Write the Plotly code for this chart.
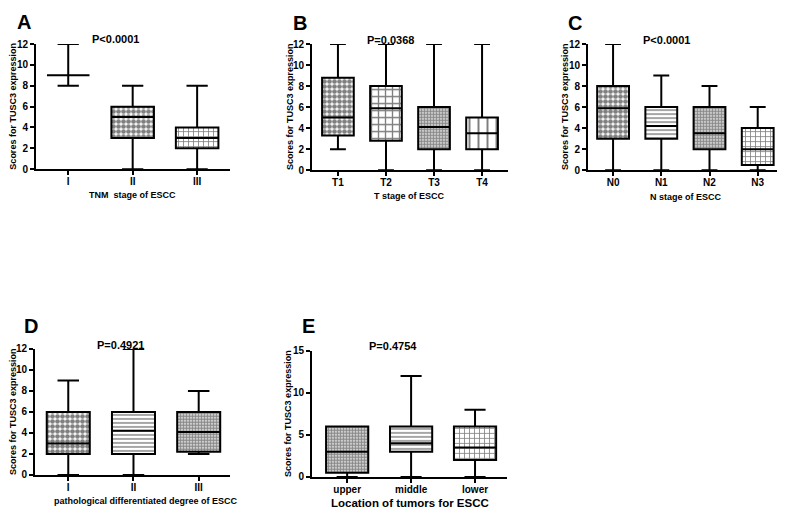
import plotly.graph_objects as go

# ---------------- data ----------------
A_cats = ["I", "II", "III"]
A_min = [8, 0, 0]
A_q1 = [9, 3, 2]
A_med = [9, 5, 3]
A_q3 = [9, 6, 4]
A_max = [12, 8, 8]

B_cats = ["T1", "T2", "T3", "T4"]
B_min = [2, 0, 0, 0]
B_q1 = [3.3, 2.8, 2, 2]
B_med = [5, 5.9, 4.1, 3.5]
B_q3 = [8.8, 8, 6, 5]
B_max = [12, 12, 12, 12]

C_cats = ["N0", "N1", "N2", "N3"]
C_min = [0, 0, 0, 0]
C_q1 = [3, 3, 2, 0.5]
C_med = [5.9, 4.2, 3.5, 2]
C_q3 = [8, 6, 6, 4]
C_max = [12, 9, 8, 6]

D_cats = ["I", "II", "III"]
D_min = [0, 0, 2]
D_q1 = [2, 2, 2.2]
D_med = [3, 4.2, 4.1]
D_q3 = [6, 6, 6]
D_max = [9, 12, 8]

E_cats = ["upper", "middle", "lower"]
E_min = [0, 0, 0]
E_q1 = [0.5, 3, 2]
E_med = [3, 4, 3.5]
E_q3 = [6, 6, 6]
E_max = [6, 12, 8]

A_p = "P<0.0001"
B_p = "P=0.0368"
C_p = "P<0.0001"
D_p = "P=0.4921"
E_p = "P=0.4754"

A_xtitle = "TNM  stage of ESCC"
B_xtitle = "T stage of ESCC"
C_xtitle = "N stage of ESCC"
D_xtitle = "pathological differentiated degree of ESCC"
E_xtitle = "Location of tumors for ESCC"
Y_title = "Scores for TUSC3 expression"

# ---------------- styles ----------------
W, H = 787, 522
FONT = "Liberation Sans, Arial, sans-serif"

PAT = {
    "checker": dict(shape=".", size=5, solidity=0.7, fgcolor="black"),
    "finegrid": dict(shape="+", size=5, solidity=0.3, fgcolor="black"),
    "biggrid": dict(shape="+", size=7, solidity=0.35, fgcolor="black"),
    "dots": dict(shape=".", size=3, solidity=0.75, fgcolor="#111111"),
    "vlines": dict(shape="|", size=9, solidity=0.22, fgcolor="black"),
    "brick": dict(shape="-", size=4, solidity=0.35, fgcolor="black"),
}

panels = [
    dict(key="A", cats=A_cats, mn=A_min, q1=A_q1, md=A_med, q3=A_q3, mx=A_max,
         pats=["checker", "checker", "finegrid"], p=A_p, xt=A_xtitle,
         px=(36, 230), py=(39, 167), xr=(-0.5, 2.51), yr=(0, 12), dt=2,
         letter=(24, 16), pv=(115, 34), xtp=(132, 193), ytx=13, xtsize=9),
    dict(key="B", cats=B_cats, mn=B_min, q1=B_q1, md=B_med, q3=B_q3, mx=B_max,
         pats=["checker", "biggrid", "dots", "vlines"], p=B_p, xt=B_xtitle,
         px=(312, 508), py=(39, 168), xr=(-0.54, 3.54), yr=(0, 12), dt=2,
         letter=(300, 17), pv=(390, 35), xtp=(409, 194), ytx=290, xtsize=9),
    dict(key="C", cats=C_cats, mn=C_min, q1=C_q1, md=C_med, q3=C_q3, mx=C_max,
         pats=["checker", "brick", "dots", "finegrid"], p=C_p, xt=C_xtitle,
         px=(588, 777), py=(39, 168), xr=(-0.52, 3.40), yr=(0, 12), dt=2,
         letter=(575, 17), pv=(666, 35), xtp=(686, 195), ytx=565, xtsize=9),
    dict(key="D", cats=D_cats, mn=D_min, q1=D_q1, md=D_med, q3=D_q3, mx=D_max,
         pats=["checker", "brick", "dots"], p=D_p, xt=D_xtitle,
         px=(35, 230), py=(351, 480), xr=(-0.51, 2.48), yr=(0, 12), dt=2,
         letter=(31, 328), pv=(120, 347), xtp=(146, 507), ytx=13, xtsize=9),
    dict(key="E", cats=E_cats, mn=E_min, q1=E_q1, md=E_med, q3=E_q3, mx=E_max,
         pats=["dots", "brick", "finegrid"], p=E_p, xt=E_xtitle,
         px=(312, 507), py=(353, 482), xr=(-0.55, 2.5), yr=(0, 15), dt=5,
         letter=(308, 328), pv=(393, 348), xtp=(410, 509), ytx=288, xtsize=11.5),
]

fig = go.Figure()
annotations = []
layout = {}
BOXW = 0.66

for i, pn in enumerate(panels):
    n = i + 1
    xa = "x" if n == 1 else f"x{n}"
    ya = "y" if n == 1 else f"y{n}"
    xpos = list(range(len(pn["cats"])))
    pats = [PAT[k] for k in pn["pats"]]
    fig.add_trace(go.Bar(
        x=xpos, base=pn["q1"], y=[b - a for a, b in zip(pn["q1"], pn["q3"])],
        width=BOXW, xaxis=xa, yaxis=ya, showlegend=False, hoverinfo="skip",
        marker=dict(color="white", line=dict(width=0),
                    pattern=dict(shape=[p["shape"] for p in pats],
                                 size=[p["size"] for p in pats],
                                 solidity=[p["solidity"] for p in pats],
                                 fgcolor=[p["fgcolor"] for p in pats],
                                 bgcolor="white", fillmode="overlay")),
    ))
    fig.add_trace(go.Box(
        x=xpos, q1=pn["q1"], median=pn["md"], q3=pn["q3"],
        lowerfence=pn["mn"], upperfence=pn["mx"], width=BOXW,
        whiskerwidth=0.5, fillcolor="rgba(0,0,0,0)",
        line=dict(color="black", width=2), boxpoints=False,
        xaxis=xa, yaxis=ya, showlegend=False, hoverinfo="skip",
    ))
    x0, x1 = pn["px"]
    y0, y1 = pn["py"]
    layout["xaxis" if n == 1 else f"xaxis{n}"] = dict(
        domain=[x0 / W, x1 / W], range=list(pn["xr"]), anchor=ya,
        tickmode="array", tickvals=xpos, ticktext=pn["cats"],
        showline=True, linecolor="black", linewidth=2, mirror=False,
        ticks="outside", ticklen=4, tickwidth=2, tickcolor="black",
        ticklabelstandoff=-2,
        showgrid=False, zeroline=False, fixedrange=True,
        tickfont=dict(family=FONT, size=10, color="black", weight="bold"),
    )
    layout["yaxis" if n == 1 else f"yaxis{n}"] = dict(
        domain=[1 - y1 / H, 1 - y0 / H], range=list(pn["yr"]), anchor=xa,
        tickmode="linear", tick0=0, dtick=pn["dt"],
        showline=True, linecolor="black", linewidth=2,
        ticks="outside", ticklen=4, tickwidth=2, tickcolor="black",
        showgrid=False, zeroline=False, fixedrange=True,
        tickfont=dict(family=FONT, size=10, color="black", weight="bold"),
    )
    annotations.append(dict(text=pn["key"], x=pn["letter"][0] / W, y=1 - pn["letter"][1] / H,
                            xref="paper", yref="paper", showarrow=False,
                            xanchor="center", yanchor="middle",
                            font=dict(family=FONT, size=20, color="black", weight="bold")))
    annotations.append(dict(text=pn["p"], x=pn["pv"][0] / W, y=1 - pn["pv"][1] / H,
                            xref="paper", yref="paper", showarrow=False,
                            xanchor="center", yanchor="middle",
                            font=dict(family=FONT, size=11, color="black", weight="bold")))
    annotations.append(dict(text=pn["xt"], x=pn["xtp"][0] / W, y=1 - pn["xtp"][1] / H,
                            xref="paper", yref="paper", showarrow=False,
                            xanchor="center", yanchor="middle",
                            font=dict(family=FONT, size=pn["xtsize"], color="black", weight="bold")))
    annotations.append(dict(text=Y_title, x=pn["ytx"] / W, y=1 - (y0 + y1) / 2 / H,
                            xref="paper", yref="paper", showarrow=False, textangle=-90,
                            xanchor="center", yanchor="middle",
                            font=dict(family=FONT, size=9, color="black", weight="bold")))

fig.update_layout(
    width=W, height=H, margin=dict(l=0, r=0, t=0, b=0),
    paper_bgcolor="white", plot_bgcolor="white",
    barmode="overlay", boxmode="overlay",
    annotations=annotations, **layout,
)

POST = ("document.body.style.margin='0';document.body.style.padding='0';"
        "var gd=document.getElementById('{plot_id}');"
        "gd.style.position='absolute';gd.style.left='0px';gd.style.top='0px';")
fig.write_html("out.html", config={"displayModeBar": False}, post_script=POST)
